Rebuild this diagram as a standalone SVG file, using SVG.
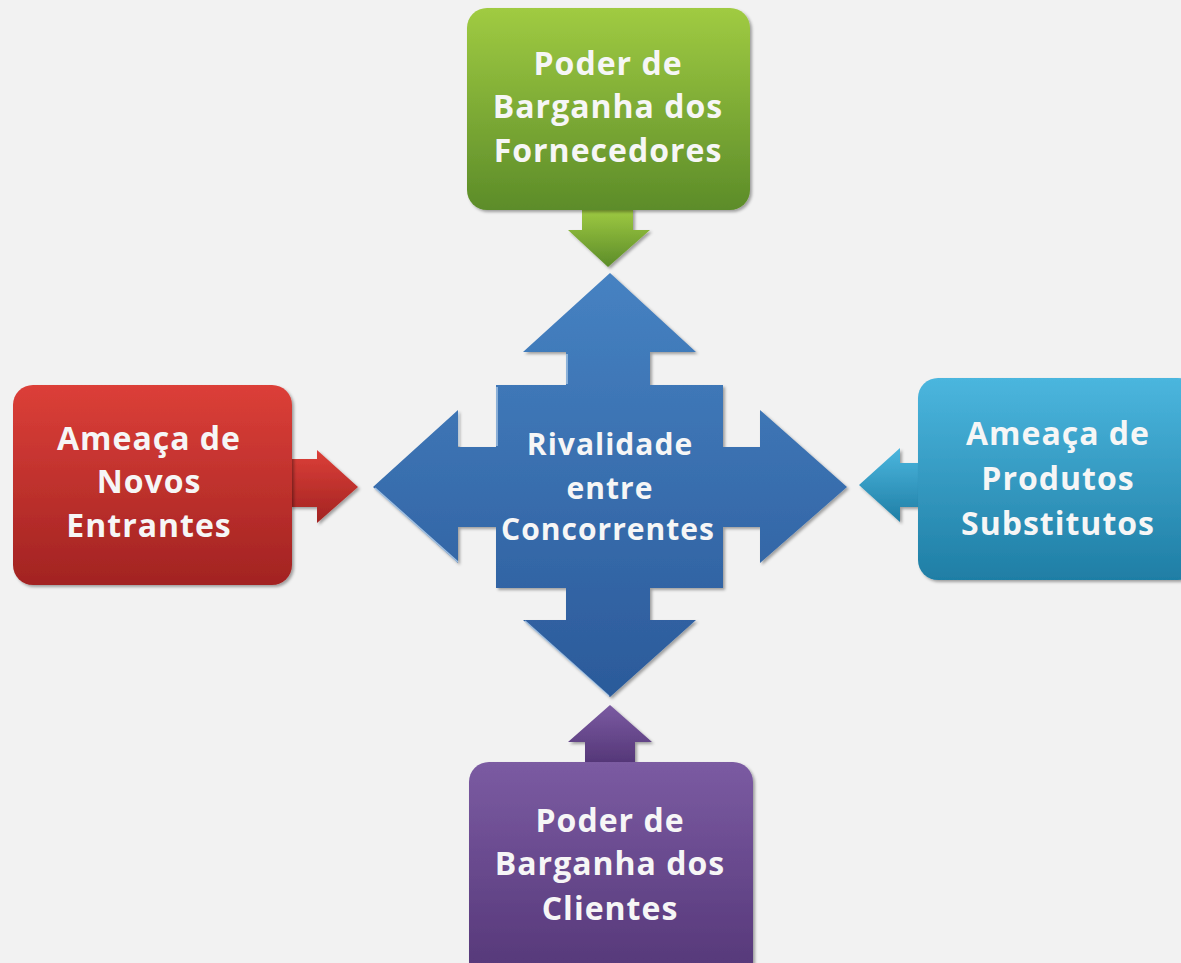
<svg xmlns="http://www.w3.org/2000/svg" width="1181" height="963" viewBox="0 0 1181 963">
<defs>
<linearGradient id="gGreen" x1="0" y1="0" x2="0" y2="1"><stop offset="0" stop-color="#a0cb42"/><stop offset="1" stop-color="#5c8c29"/></linearGradient>
<linearGradient id="gRed" x1="0" y1="0" x2="0" y2="1"><stop offset="0" stop-color="#dc3f38"/><stop offset="1" stop-color="#a22322"/></linearGradient>
<linearGradient id="gCyan" x1="0" y1="0" x2="0" y2="1"><stop offset="0" stop-color="#4bb6de"/><stop offset="1" stop-color="#1f7ea5"/></linearGradient>
<linearGradient id="gPurple" x1="0" y1="0" x2="0" y2="1"><stop offset="0" stop-color="#7b5ba2"/><stop offset="1" stop-color="#543677"/></linearGradient>
<linearGradient id="gBlue" x1="0" y1="0" x2="0" y2="1"><stop offset="0" stop-color="#4682c2"/><stop offset="1" stop-color="#2b5a9a"/></linearGradient>
<filter id="sh" x="-10%" y="-10%" width="120%" height="120%">
<feDropShadow dx="2" dy="2" stdDeviation="1.5" flood-color="#000" flood-opacity="0.35"/>
</filter>
</defs>
<style>
.t{font-family:"Open Sans","Noto Sans","DejaVu Sans",sans-serif;font-weight:bold;font-size:30px;fill:#f6f6f6;text-anchor:middle;letter-spacing:1px}
.b{font-size:32px}
.box{filter:url(#sh)}
.edge{fill:none;stroke:#cfe4f7;stroke-width:1.5;stroke-opacity:0.7}
</style>
<rect width="1181" height="963" fill="#f2f2f2"/>

<g id="connectors">
<path id="arrow-fornecedores" class="box" d="M582,208 L633,208 L633,230 L650,230 L608,267 L568,230 L582,230 Z" fill="url(#gGreen)"/>
<path id="arrow-entrantes" class="box" d="M290,459 L317,459 L317,450 L358,487 L317,523 L317,507 L290,507 Z" fill="url(#gRed)"/>
<path id="arrow-substitutos" class="box" d="M920,463 L900,463 L900,448 L859,485 L900,522 L900,507 L920,507 Z" fill="url(#gCyan)"/>
<path id="arrow-clientes" class="box" d="M585,764 L635,764 L635,742 L652,742 L610,705 L568,742 L585,742 Z" fill="url(#gPurple)"/>
</g>

<g id="node-rivalidade">
<path class="box" d="M610,273 L696,352 L650,352 L650,385 L723,385 L723,447 L760,447 L760,410 L847,487 L760,563 L760,527 L723,527 L723,588 L650,588 L650,620 L696,620 L610,697 L523,620 L566,620 L566,588 L496,588 L496,527 L458,527 L458,563 L373,487 L458,410 L458,447 L496,447 L496,385 L566,385 L566,352 L523,352 Z" fill="url(#gBlue)"/>
<path class="edge" d="M375,488 L458,562 M525,621 L609,696 M497,387 L497,446 M459,412 L459,446 M567,354 L567,384"/>
<text class="t" x="610" y="455">Rivalidade</text>
<text class="t" x="610" y="499">entre</text>
<text class="t" x="608" y="540">Concorrentes</text>
</g>

<g id="node-fornecedores">
<rect class="box" x="467" y="8" width="283" height="202" rx="20" fill="url(#gGreen)"/>
<text class="t b" x="608" y="75">Poder de</text>
<text class="t b" x="608" y="118">Barganha dos</text>
<text class="t b" x="608" y="162">Fornecedores</text>
</g>

<g id="node-entrantes">
<rect class="box" x="13" y="385" width="279" height="200" rx="20" fill="url(#gRed)"/>
<text class="t b" x="149" y="450">Ameaça de</text>
<text class="t b" x="149" y="493">Novos</text>
<text class="t b" x="149" y="537">Entrantes</text>
</g>

<g id="node-substitutos">
<rect class="box" x="918" y="378" width="280" height="202" rx="20" fill="url(#gCyan)"/>
<text class="t b" x="1058" y="445">Ameaça de</text>
<text class="t b" x="1058" y="490">Produtos</text>
<text class="t b" x="1058" y="535">Substitutos</text>
</g>

<g id="node-clientes">
<rect class="box" x="469" y="762" width="284" height="220" rx="20" fill="url(#gPurple)"/>
<text class="t b" x="610" y="832">Poder de</text>
<text class="t b" x="610" y="875">Barganha dos</text>
<text class="t b" x="610" y="920">Clientes</text>
</g>
</svg>
